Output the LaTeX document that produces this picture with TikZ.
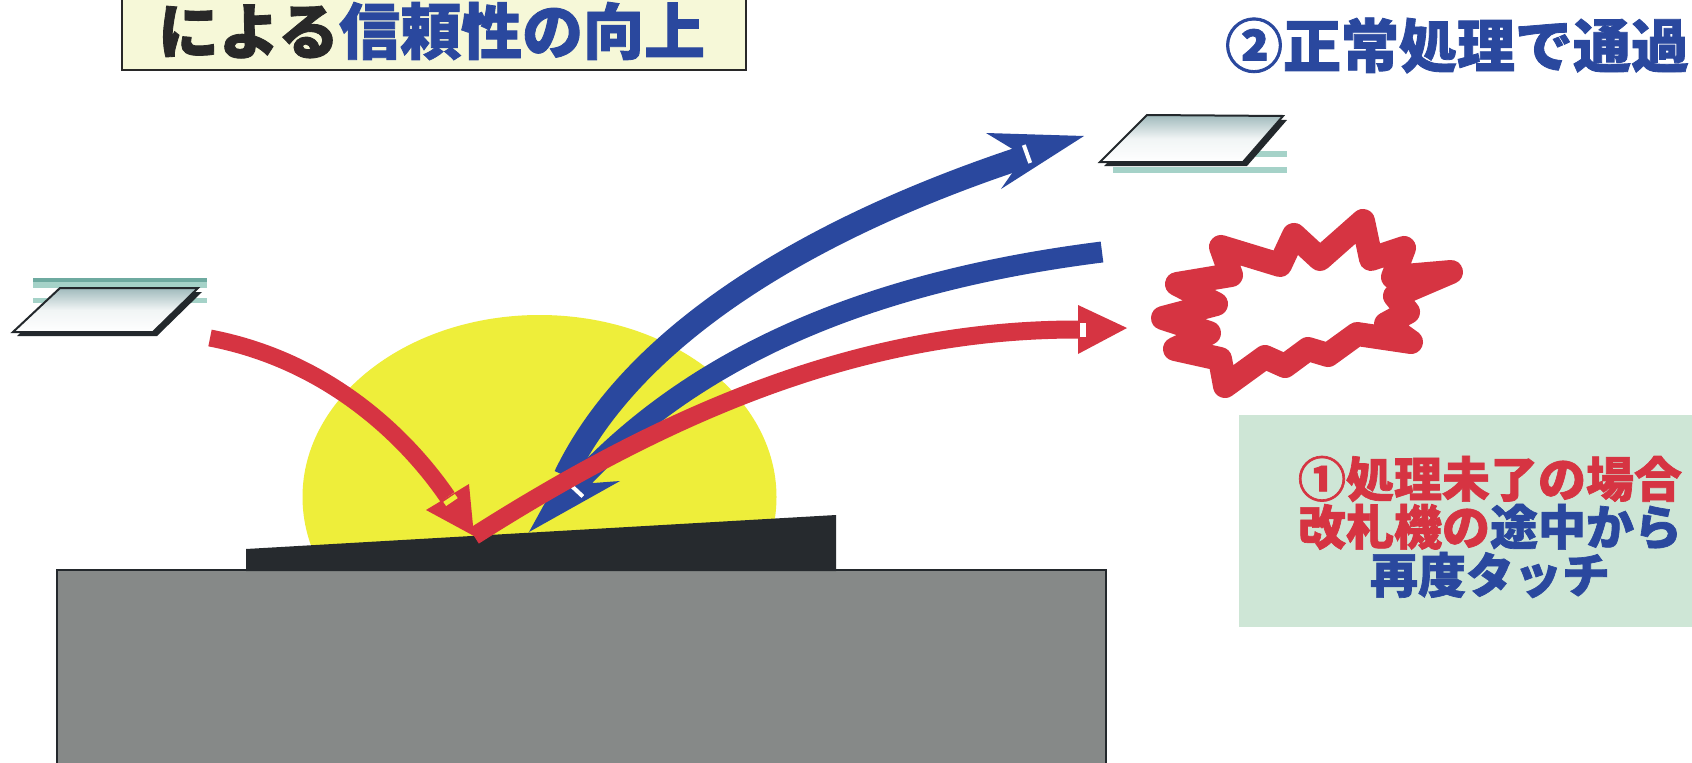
\documentclass[tikz,border=0pt]{standalone}
\usepackage{fontspec}
\newfontfamily\jp{Noto Sans CJK JP}[BoldFeatures={FakeBold=1.4}]
\definecolor{arrowred}{RGB}{214,52,66}
\definecolor{arrowblue}{RGB}{42,72,158}
\definecolor{sunyellow}{RGB}{238,238,58}
\definecolor{basegray}{RGB}{134,137,136}
\definecolor{slabdark}{RGB}{38,42,46}
\definecolor{titlecream}{RGB}{246,248,216}
\definecolor{notegreen}{RGB}{206,230,214}
\definecolor{inkdark}{RGB}{40,40,40}
\definecolor{cardtop}{RGB}{160,186,188}
\definecolor{cardedge}{RGB}{35,40,44}
\definecolor{tealdark}{RGB}{110,170,160}
\definecolor{teallight}{RGB}{165,210,200}
\tikzset{
  shaft/.style={line width=#1, line cap=butt},
  gapmark/.style={inner sep=0pt, outer sep=0pt, draw=none},
  card/.style={draw=cardedge, line width=2pt, line join=miter, top color=cardtop, bottom color=white, middle color=white!85!cardtop},
  cardshade/.style={fill=cardedge},
  heading/.style={inner sep=0pt, font=\jp\bfseries\fontsize{#1}{#1}\selectfont},
}
\begin{document}
\begin{tikzpicture}[x=1pt,y=-1pt]
\useasboundingbox (0,0) rectangle (1692,763);
\fill[white] (0,0) rectangle (1692,763);

% title plate
\filldraw[fill=titlecream, draw=inkdark, line width=2.5pt] (122,-6) rectangle (746,70);
\node[heading=61] (title) at (431.5,31) {\textcolor{inkdark}{による}\textcolor{arrowblue}{信頼性の向上}};

% heading for the normal case
\node[heading=58, text=arrowblue] (normal) at (1457,45.5) {②正常処理で通過};

% note for the unfinished case
\fill[notegreen] (1239,415) rectangle (1692,627);
\node[heading=48, align=center] (note) at (1490,527)
  {\fontsize{48}{59}\selectfont\textcolor{arrowred}{①処理未了の場合}\\
   \textcolor{arrowred}{改札機の}\textcolor{arrowblue}{途中から}\\
   \textcolor{arrowblue}{再度タッチ}};

% reader field
\fill[sunyellow] (539.5,497) ellipse [x radius=237, y radius=182];

% gate body and reader plate
\filldraw[fill=basegray, draw=cardedge, line width=2pt] (57,570) rectangle (1106,770);
\fill[slabdark] (246,549) -- (836,515) -- (836,571) -- (246,571) -- cycle;

% incoming card
\fill[tealdark] (33,278) rectangle (207,282);
\fill[teallight] (33,282) rectangle (207,288);
\fill[teallight] (33,298) rectangle (207,303);
\fill[cardshade] (64,292) -- (202,292) -- (157,336) -- (17,336) -- cycle;
\path[card] (60,288) -- (198,288) -- (153,332) -- (13,332) -- cycle;

% outgoing card
\fill[teallight] (1113,151) rectangle (1287,157);
\fill[teallight] (1113,167) rectangle (1287,173);
\fill[cardshade] (1151,119) -- (1287,120) -- (1247,166) -- (1104,166) -- cycle;
\path[card] (1147,115) -- (1283,116) -- (1243,162) -- (1100,162) -- cycle;

% burst
\filldraw[fill=white, draw=arrowred, line width=24pt, line join=round]
  (1163,318) -- (1216,304) -- (1177,284) -- (1231,275) -- (1221,247) --
  (1280,265) -- (1294,235) -- (1320,259) -- (1363,221) -- (1371,259) --
  (1404,248) -- (1393,277) -- (1451,272) -- (1395,296) -- (1408,312) --
  (1386,324) -- (1411,342) -- (1357,334) -- (1328,355) -- (1308,349) --
  (1285,366) -- (1265,357) -- (1225,386) -- (1220,359) -- (1175,349) --
  (1209,333) -- cycle;

% blue path: touch again, then pass
\coordinate (b2s) at (1102,252);
\coordinate (b2e) at (576,485);
\coordinate (b2tip) at (529,532);
\coordinate (b1s) at (565,476);
\coordinate (b1e) at (1030,155);
\coordinate (b1tip) at (1084,136);
\draw[arrowblue, shaft=21pt] (b2s) .. controls (880,280) and (700,350) .. (b2e);
\draw[arrowblue, shaft=23pt] (b1s) .. controls (630,340) and (800,230) .. (b1e);
\fill[arrowblue] (b2tip) -- (620,481) -- (580,484) -- (579,441) -- cycle;
\fill[arrowblue] (b1tip) -- (986,133) -- (1024,156) -- (1001,189) -- cycle;
\node[gapmark, fill=white, minimum width=4pt, minimum height=19pt, rotate=19.7] at (1027,154) {};
\node[gapmark, fill=white, minimum width=4pt, minimum height=16pt, rotate=47] at (577,491) {};

% red path: unfinished touch, then stopped
\coordinate (r1s) at (210,338);
\coordinate (r1e) at (447.5,497);
\coordinate (r1tip) at (474,536);
\coordinate (r2e) at (1079,329.5);
\coordinate (r2tip) at (1127,328);
\draw[arrowred, shaft=17pt] (r1s) .. controls (335,362) and (412,445) .. (r1e);
\fill[arrowred] (426,510) -- (r1tip) -- (469,484) -- cycle;
\node[gapmark, fill=sunyellow, minimum width=5pt, minimum height=14pt, rotate=-55.8] at (450.5,500) {};
\draw[arrowred, shaft=18pt] (r1tip) .. controls (680,405) and (870,329) .. (r2e);
\fill[arrowred] (1078,305) -- (r2tip) -- (1078,354) -- cycle;
\node[gapmark, fill=white, minimum width=6pt, minimum height=14pt] at (1083,329.5) {};
\end{tikzpicture}
\end{document}
